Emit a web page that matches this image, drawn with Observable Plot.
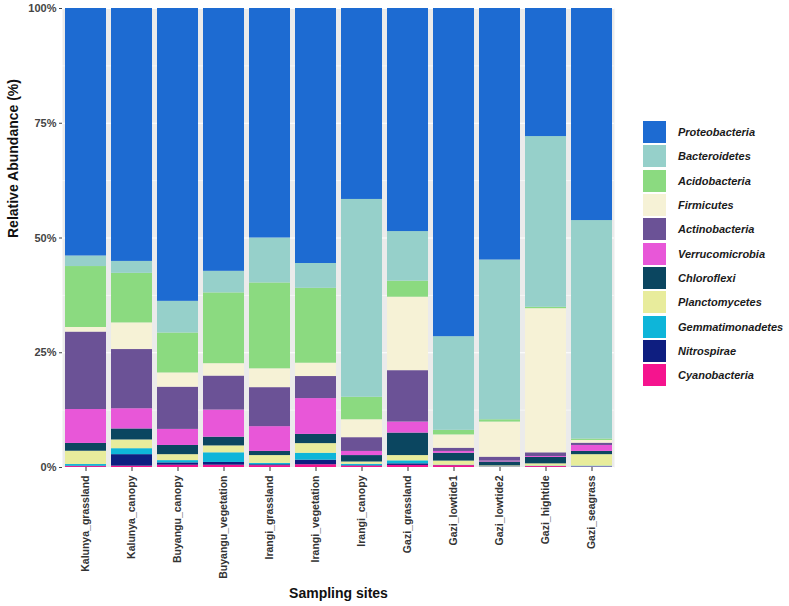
<!DOCTYPE html>
<html>
<head>
<meta charset="utf-8">
<script src="https://cdn.jsdelivr.net/npm/d3@7"></script>
<script src="https://cdn.jsdelivr.net/npm/@observablehq/plot@0.6"></script>
<style>
  html, body { margin: 0; padding: 0; background: #fff; }
  #wrap { position: relative; width: 789px; height: 606px; font-family: "Liberation Sans", Arial, sans-serif; }
  #legend { position: absolute; left: 643px; top: 120px; }
  .row { display: flex; align-items: center; height: 24.3px; }
  .key { width: 23px; height: 22px; margin-right: 12px; }
  .lab { font-size: 11px; font-weight: bold; font-style: italic; color: #1a1a1a; }
</style>
</head>
<body>
<div id="wrap"><div id="legend"></div></div>
<script>
const sites = ["Kalunya_grassland","Kalunya_canopy","Buyangu_canopy","Buyangu_vegetation","Irangi_grassland","Irangi_vegetation","Irangi_canopy","Gazi_grassland","Gazi_lowtide1","Gazi_lowtide2","Gazi_hightide","Gazi_seagrass"];

// legend order (top of stack first)
const phyla = ["Proteobacteria","Bacteroidetes","Acidobacteria","Firmicutes","Actinobacteria","Verrucomicrobia","Chloroflexi","Planctomycetes","Gemmatimonadetes","Nitrospirae","Cyanobacteria"];
const colors = ["#1D6BD2","#96D0CA","#8BDA80","#F6F2D6","#6B5296","#E857D8","#0B4660","#E8EC9C","#0EB5D9","#0E1E80","#F5148E"];

const proteobacteria   = [54.0, 55.1, 63.8, 57.2, 50.0, 55.5, 41.6, 48.6, 71.5, 54.8, 27.9, 46.2];
const bacteroidetes    = [2.3, 2.6, 6.9, 4.7, 9.8, 5.4, 43.1, 10.8, 20.4, 34.8, 37.2, 47.6];
const acidobacteria    = [13.3, 10.8, 8.7, 15.4, 18.7, 16.3, 4.9, 3.5, 1.0, 0.5, 0.3, 0.3];
const firmicutes       = [1.0, 5.8, 3.1, 2.7, 4.1, 2.9, 3.9, 16.0, 2.9, 7.65, 31.4, 0.6];
const actinobacteria   = [16.9, 12.9, 9.2, 7.4, 8.5, 4.8, 3.0, 11.2, 0.7, 0.85, 0.8, 0.5];
const verrucomicrobia  = [7.4, 4.4, 3.5, 5.9, 5.4, 7.8, 0.9, 2.4, 0.4, 0.2, 0.2, 1.3];
const chloroflexi      = [1.7, 2.4, 2.0, 1.9, 0.9, 2.0, 1.4, 4.9, 1.7, 0.85, 1.4, 0.7];
const planctomycetes   = [2.9, 1.9, 1.3, 1.5, 1.7, 2.1, 0.5, 1.15, 0.9, 0.2, 0.5, 2.5];
const gemmatimonadetes = [0.35, 1.3, 0.5, 2.1, 0.3, 1.5, 0.3, 0.65, 0.05, 0.05, 0.05, 0.15];
const nitrospirae      = [0.1, 2.5, 0.5, 0.6, 0.2, 1.0, 0.1, 0.35, 0.05, 0.05, 0.05, 0.05];
const cyanobacteria    = [0.2, 0.3, 0.5, 0.5, 0.4, 0.6, 0.3, 0.45, 0.4, 0.05, 0.2, 0.1];

const yTicks = [0, 0.25, 0.5, 0.75, 1];
const yTickLabels = ["0%", "25%", "50%", "75%", "100%"];

const series = [proteobacteria, bacteroidetes, acidobacteria, firmicutes, actinobacteria, verrucomicrobia, chloroflexi, planctomycetes, gemmatimonadetes, nitrospirae, cyanobacteria];

// rows built bottom-to-top (reverse of legend order)
const rows = [];
for (let p = phyla.length - 1; p >= 0; p--) {
  sites.forEach((s, i) => rows.push({site: s, phylum: phyla[p], value: series[p][i]}));
}

const minorTicks = [0.125, 0.375, 0.625, 0.875];

const chart = Plot.plot({
  width: 789,
  height: 606,
  marginLeft: 62,
  marginRight: 175,
  marginTop: 8,
  marginBottom: 139,
  style: {fontFamily: "'Liberation Sans', Arial, sans-serif", background: "transparent"},
  x: {domain: sites, paddingInner: 0.11, paddingOuter: 0.05, label: null},
  y: {domain: [0, 1], label: null},
  color: {domain: phyla, range: colors},
  marks: [
    Plot.frame({fill: "#EBEBEB", stroke: null}),
    Plot.gridY(minorTicks, {stroke: "white", strokeOpacity: 1, strokeWidth: 0.6}),
    Plot.gridY(yTicks, {stroke: "white", strokeOpacity: 1, strokeWidth: 1.2}),
    Plot.barY(rows, {x: "site", y: "value", fill: "phylum", offset: "normalize"}),
    Plot.axisY(yTicks, {tickFormat: (d, i) => yTickLabels[yTicks.indexOf(d)], tickSize: 3, tickPadding: 3, fontSize: 11, fontWeight: "bold", color: "#444", label: null}),
    Plot.axisX({tickRotate: -90, tickSize: 4, tickPadding: 4, fontSize: 10.5, fontWeight: "bold", color: "#333", label: null}),
    Plot.text(["Sampling sites"], {frameAnchor: "bottom", dy: 130, fontSize: 14, fontWeight: "bold", fill: "#111"}),
    Plot.text(["Relative Abundance (%)"], {frameAnchor: "left", dx: -49, rotate: -90, fontSize: 14, fontWeight: "bold", fill: "#111"})
  ]
});

const wrap = document.getElementById("wrap");
wrap.insertBefore(chart, wrap.firstChild);

const legend = document.getElementById("legend");
phyla.forEach((p, i) => {
  const row = document.createElement("div");
  row.className = "row";
  const key = document.createElement("div");
  key.className = "key";
  key.style.background = colors[i];
  const lab = document.createElement("span");
  lab.className = "lab";
  lab.textContent = p;
  row.appendChild(key);
  row.appendChild(lab);
  legend.appendChild(row);
});
</script>
</body>
</html>
